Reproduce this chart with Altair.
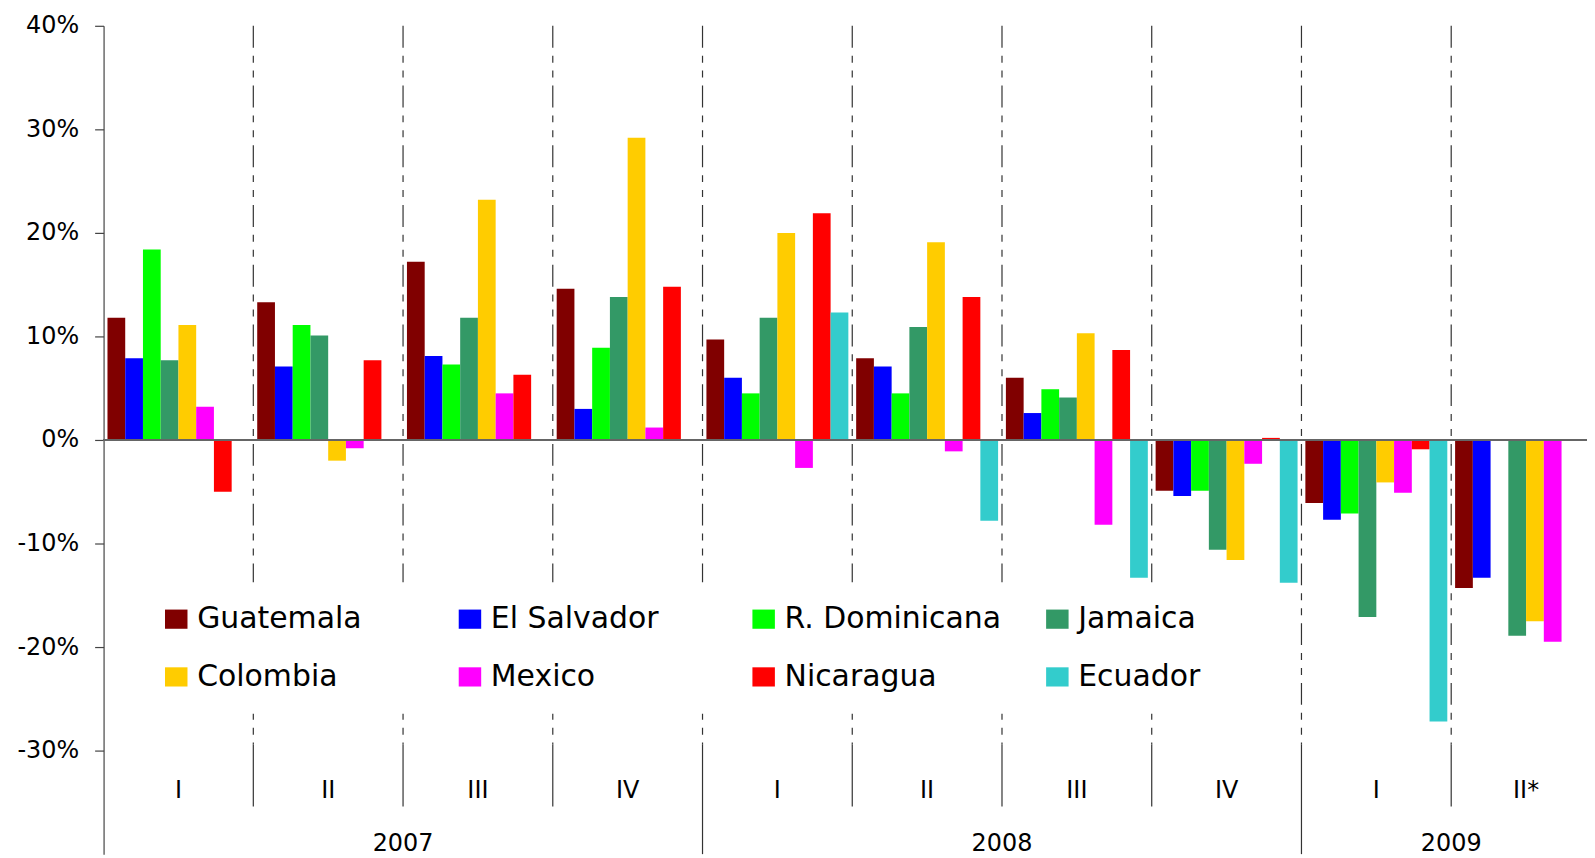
import altair as alt
import pandas as pd

# ---- data ----
periods = ["2007-I", "2007-II", "2007-III", "2007-IV",
           "2008-I", "2008-II", "2008-III", "2008-IV",
           "2009-I", "2009-II*"]
quarter_labels = ["I", "II", "III", "IV", "I", "II", "III", "IV", "I", "II*"]
year_labels = ["2007", "2008", "2009"]
year_label_anchor = ["2007-II", "2008-II", "2009-I"]   # label sits at the end of this quarter
year_starts = ["2008-I", "2009-I"]

countries = ["Guatemala", "El Salvador", "R. Dominicana", "Jamaica",
             "Colombia", "Mexico", "Nicaragua", "Ecuador"]
colors = ["#800000", "#0000FF", "#00FF00", "#339966",
          "#FFCC00", "#FF00FF", "#FF0000", "#33CCCC"]

guatemala = [11.8, 13.3, 17.2, 14.6, 9.7, 7.9, 6.0, -4.9, -6.1, -14.3]
el_salvador = [7.9, 7.1, 8.1, 3.0, 6.0, 7.1, 2.6, -5.4, -7.7, -13.3]
r_dominicana = [18.4, 11.1, 7.3, 8.9, 4.5, 4.5, 4.9, -4.9, -7.1, None]
jamaica = [7.7, 10.1, 11.8, 13.8, 11.8, 10.9, 4.1, -10.6, -17.1, -18.9]
colombia = [11.1, -2.0, 23.2, 29.2, 20.0, 19.1, 10.3, -11.6, -4.1, -17.5]
mexico = [3.2, -0.8, 4.5, 1.2, -2.7, -1.1, -8.2, -2.3, -5.1, -19.5]
nicaragua = [-5.0, 7.7, 6.3, 14.8, 21.9, 13.8, 8.7, 0.2, -0.9, None]
ecuador = [None, None, None, None, 12.3, -7.8, -13.3, -13.8, -27.2, None]

series = [guatemala, el_salvador, r_dominicana, jamaica,
          colombia, mexico, nicaragua, ecuador]

y_ticks = [-30, -20, -10, 0, 10, 20, 30, 40]

# ---- tables ----
rows = []
for c, vals in zip(countries, series):
    for p, v in zip(periods, vals):
        if v is not None:
            rows.append({"period": p, "country": c, "value": v})
bars_df = pd.DataFrame(rows)

q_df = pd.DataFrame({"period": periods, "label": quarter_labels})
y_df = pd.DataFrame({"period": year_label_anchor, "label": year_labels})
sep_df = pd.DataFrame({"period": periods[1:]})
ysep_df = pd.DataFrame({"period": year_starts})
qsep_df = pd.DataFrame({"period": [p for p in periods[1:] if p not in year_starts]})

W, H = 1490, 832
XRANGE = 1504   # the original plot runs slightly past the right edge of the picture
FONT = "DejaVu Sans"

xscale = alt.Scale(domain=periods, range=[0, XRANGE], paddingInner=0, paddingOuter=0)
yscale = alt.Scale(domain=[-40, 40], nice=False, zero=False)

x_enc = alt.X("period:N", scale=xscale, axis=None)

bars = alt.Chart(bars_df).mark_bar(strokeWidth=0).encode(
    x=x_enc,
    xOffset=alt.XOffset("country:N",
                        scale=alt.Scale(domain=countries, paddingInner=0, paddingOuter=0.22)),
    y=alt.Y("value:Q", scale=yscale,
            axis=alt.Axis(values=y_ticks, labelExpr="datum.value + '%'", grid=False,
                          tickSize=9, labelPadding=16, labelFont=FONT, labelFontSize=24,
                          labelColor="black", domainColor="#444", tickColor="#444",
                          domainWidth=1.2, tickWidth=1.2, title=None)),
    color=alt.Color("country:N",
                    scale=alt.Scale(domain=countries, range=colors),
                    legend=alt.Legend(
                        title=None, orient="none", legendX=36, legendY=559,
                        columns=4, direction="horizontal", gridAlign="all",
                        symbolType="M-1.17,-1H1.17V1H-1.17Z", symbolSize=372,
                        symbolStrokeWidth=0, symbolOpacity=1,
                        labelFont=FONT, labelFontSize=30, labelColor="black",
                        labelLimit=600, labelOffset=6, columnPadding=41,
                        rowPadding=28, padding=22, fillColor="white")),
)

dashed = alt.Chart(sep_df).mark_rule(color="#333", strokeWidth=1.2,
                                     strokeDash=[22, 8, 7, 8, 7, 8]).encode(
    x=alt.X("period:N", scale=xscale, bandPosition=0, axis=None),
    y=alt.datum(40),
    y2=alt.datum(-29.4),
)

solid_q = alt.Chart(qsep_df).mark_rule(color="#333", strokeWidth=1.2).encode(
    x=alt.X("period:N", scale=xscale, bandPosition=0, axis=None),
    y=alt.datum(-29.4),
    y2=alt.datum(-35.4),
)

solid_y = alt.Chart(ysep_df).mark_rule(color="#333", strokeWidth=1.2).encode(
    x=alt.X("period:N", scale=xscale, bandPosition=0, axis=None),
    y=alt.datum(-29.4),
    y2=alt.datum(-40),
)

zero = alt.Chart(bars_df).mark_rule(color="#666", strokeWidth=1.5).encode(
    y=alt.datum(0)
)

qtext = alt.Chart(q_df).mark_text(font=FONT, fontSize=24, color="black",
                                  baseline="middle", align="center").encode(
    x=alt.X("period:N", scale=xscale, axis=None),
    y=alt.value(769),
    text="label:N",
)

ytext = alt.Chart(y_df).mark_text(font=FONT, fontSize=24, color="black",
                                  baseline="middle", align="center").encode(
    x=alt.X("period:N", scale=xscale, bandPosition=1, axis=None),
    y=alt.value(822),
    text="label:N",
)

chart = alt.layer(dashed, solid_q, solid_y, bars, zero, qtext, ytext).properties(
    width=W, height=H,
    autosize=alt.AutoSizeParams(type="none"),
    padding={"left": 96, "top": 16, "right": 0, "bottom": 0},
    background="white",
).configure_view(stroke=None)

chart.save("out.html", embed_options={"renderer": "svg", "actions": False})
